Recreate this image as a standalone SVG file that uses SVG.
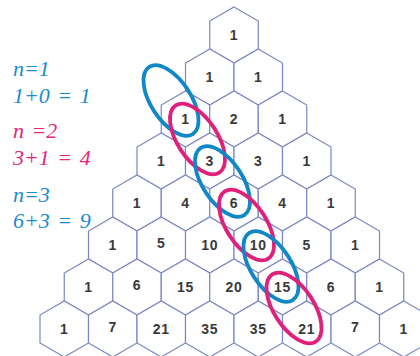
<svg xmlns="http://www.w3.org/2000/svg" xmlns:xlink="http://www.w3.org/1999/xlink" width="420" height="356" viewBox="0 0 420 356">
<style>
.hx{fill:#fff;stroke:#7b86c4;stroke-width:1.2}
.num{font-family:"Liberation Sans",Arial,sans-serif;font-weight:bold;font-size:14px;fill:#3a3a3a;text-anchor:middle;letter-spacing:0.8px}
.lbl{font-family:"Liberation Serif","Times New Roman",serif;font-style:italic;font-size:22px;word-spacing:2px}
.b{fill:#1b8bd0}
.p{fill:#e3277b}
.eb{fill:none;stroke:#1088c8;stroke-width:3.8}
.ep{fill:none;stroke:#e0207a;stroke-width:3.8}
</style>
<defs>
<path id="hex" class="hx" d="M0,-28 L24.25,-14 L24.25,14 L0,28 L-24.25,14 L-24.25,-14 Z"/>
</defs>
<rect width="420" height="356" fill="#fff"/>
<g id="labels">
<text class="lbl b" x="13" y="76">n=1</text>
<text class="lbl b" x="13" y="103">1+0 = 1</text>
<text class="lbl p" x="13" y="138">n =2</text>
<text class="lbl p" x="13" y="165">3+1 = 4</text>
<text class="lbl b" x="13" y="202">n=3</text>
<text class="lbl b" x="13" y="228">6+3 = 9</text>
</g>
<g id="r0c0"><use xlink:href="#hex" x="234" y="35"/><text class="num" x="234" y="40">1</text></g>
<g id="r1c0"><use xlink:href="#hex" x="209.75" y="77"/><text class="num" x="209.75" y="82">1</text></g>
<g id="r1c1"><use xlink:href="#hex" x="258.25" y="77"/><text class="num" x="258.25" y="82">1</text></g>
<g id="r2c0"><use xlink:href="#hex" x="185.5" y="119"/><text class="num" x="185.5" y="124">1</text></g>
<g id="r2c1"><use xlink:href="#hex" x="234" y="119"/><text class="num" x="234" y="124">2</text></g>
<g id="r2c2"><use xlink:href="#hex" x="282.5" y="119"/><text class="num" x="282.5" y="124">1</text></g>
<g id="r3c0"><use xlink:href="#hex" x="161.25" y="161"/><text class="num" x="161.25" y="166">1</text></g>
<g id="r3c1"><use xlink:href="#hex" x="209.75" y="161"/><text class="num" x="209.75" y="166">3</text></g>
<g id="r3c2"><use xlink:href="#hex" x="258.25" y="161"/><text class="num" x="258.25" y="166">3</text></g>
<g id="r3c3"><use xlink:href="#hex" x="306.75" y="161"/><text class="num" x="306.75" y="166">1</text></g>
<g id="r4c0"><use xlink:href="#hex" x="137" y="203"/><text class="num" x="137" y="208">1</text></g>
<g id="r4c1"><use xlink:href="#hex" x="185.5" y="203"/><text class="num" x="185.5" y="208">4</text></g>
<g id="r4c2"><use xlink:href="#hex" x="234" y="203"/><text class="num" x="234" y="208">6</text></g>
<g id="r4c3"><use xlink:href="#hex" x="282.5" y="203"/><text class="num" x="282.5" y="208">4</text></g>
<g id="r4c4"><use xlink:href="#hex" x="331" y="203"/><text class="num" x="331" y="208">1</text></g>
<g id="r5c0"><use xlink:href="#hex" x="112.75" y="245"/><text class="num" x="112.75" y="250">1</text></g>
<g id="r5c1"><use xlink:href="#hex" x="161.25" y="245"/><text class="num" x="161.25" y="248">5</text></g>
<g id="r5c2"><use xlink:href="#hex" x="209.75" y="245"/><text class="num" x="209.75" y="250">10</text></g>
<g id="r5c3"><use xlink:href="#hex" x="258.25" y="245"/><text class="num" x="258.25" y="250">10</text></g>
<g id="r5c4"><use xlink:href="#hex" x="306.75" y="245"/><text class="num" x="306.75" y="250">5</text></g>
<g id="r5c5"><use xlink:href="#hex" x="355.25" y="245"/><text class="num" x="355.25" y="250">1</text></g>
<g id="r6c0"><use xlink:href="#hex" x="88.5" y="287"/><text class="num" x="88.5" y="292">1</text></g>
<g id="r6c1"><use xlink:href="#hex" x="137" y="287"/><text class="num" x="137" y="290">6</text></g>
<g id="r6c2"><use xlink:href="#hex" x="185.5" y="287"/><text class="num" x="185.5" y="292">15</text></g>
<g id="r6c3"><use xlink:href="#hex" x="234" y="287"/><text class="num" x="234" y="292">20</text></g>
<g id="r6c4"><use xlink:href="#hex" x="282.5" y="287"/><text class="num" x="282.5" y="292">15</text></g>
<g id="r6c5"><use xlink:href="#hex" x="331" y="287"/><text class="num" x="331" y="292">6</text></g>
<g id="r6c6"><use xlink:href="#hex" x="379.5" y="287"/><text class="num" x="379.5" y="292">1</text></g>
<g id="r7c0"><use xlink:href="#hex" x="64.25" y="329"/><text class="num" x="64.25" y="334">1</text></g>
<g id="r7c1"><use xlink:href="#hex" x="112.75" y="329"/><text class="num" x="112.75" y="332">7</text></g>
<g id="r7c2"><use xlink:href="#hex" x="161.25" y="329"/><text class="num" x="161.25" y="334">21</text></g>
<g id="r7c3"><use xlink:href="#hex" x="209.75" y="329"/><text class="num" x="209.75" y="334">35</text></g>
<g id="r7c4"><use xlink:href="#hex" x="258.25" y="329"/><text class="num" x="258.25" y="334">35</text></g>
<g id="r7c5"><use xlink:href="#hex" x="306.75" y="329"/><text class="num" x="306.75" y="334">21</text></g>
<g id="r7c6"><use xlink:href="#hex" x="355.25" y="329"/><text class="num" x="355.25" y="332">7</text></g>
<g id="r7c7"><use xlink:href="#hex" x="403.75" y="329"/><text class="num" x="403.75" y="334">1</text></g>
<g id="connectors">
<ellipse class="eb" cx="0" cy="0" rx="40" ry="20" transform="translate(171 100.5) rotate(57)"/>
<ellipse class="ep" cx="0" cy="0" rx="40" ry="20" transform="translate(197.5 139) rotate(57)"/>
<ellipse class="eb" cx="0" cy="0" rx="40" ry="20" transform="translate(222.5 181.5) rotate(57)"/>
<ellipse class="ep" cx="0" cy="0" rx="40" ry="20" transform="translate(246.5 225) rotate(57)"/>
<ellipse class="eb" cx="0" cy="0" rx="40" ry="20" transform="translate(271 266.5) rotate(57)"/>
<ellipse class="ep" cx="0" cy="0" rx="40" ry="20" transform="translate(294 308) rotate(57)"/>
</g>
</svg>
